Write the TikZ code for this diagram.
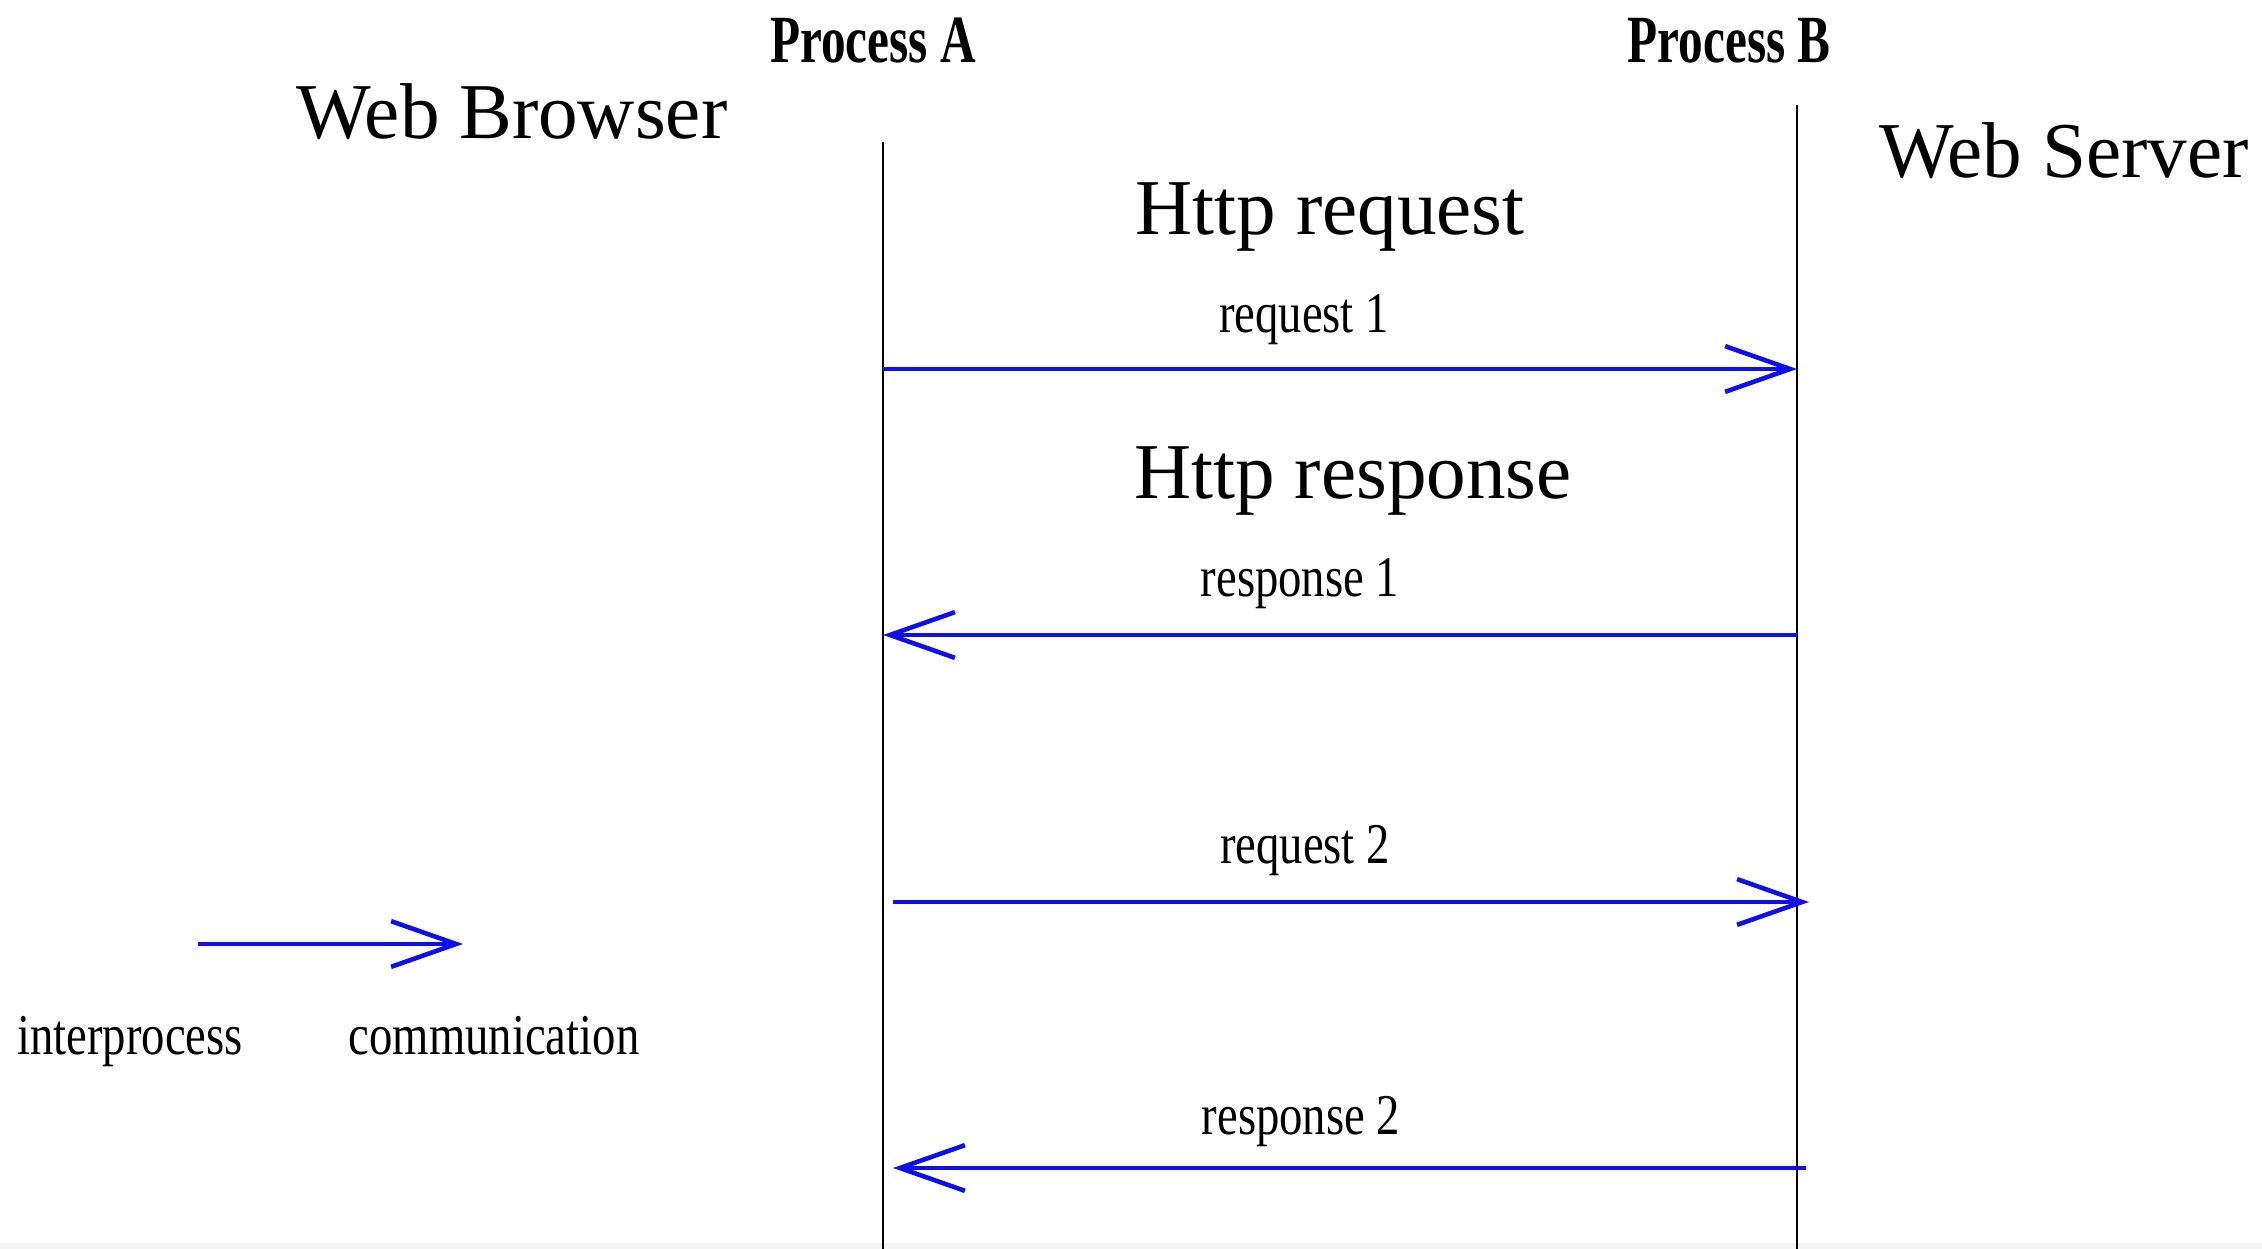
\documentclass[tikz,border=0pt]{standalone}
\usepackage{fontspec}
\setmainfont{Liberation Serif}
\usetikzlibrary{arrows.meta}
\definecolor{msgblue}{RGB}{15,15,235}
\tikzset{
  lifeline/.style={draw=black,line width=0.5pt},
  msg/.style={draw=msgblue,line width=1.3pt,
    -{Straight Barb[length=18.5pt,width=13pt,line width=1.3pt]}},
  biglabel/.style={anchor=base,inner sep=0pt,font=\fontsize{22.5}{27}\selectfont},
  smalllabel/.style={anchor=base,inner sep=0pt,font=\fontsize{16.4}{19}\selectfont},
  proclabel/.style={anchor=base,inner sep=0pt,font=\fontsize{19.2}{23}\selectfont\bfseries}
}
\newcommand{\condensed}[1]{\scalebox{0.81}[1]{#1}}
\newcommand{\proccond}[1]{\scalebox{0.73}[1]{#1}}
\begin{document}
\begin{tikzpicture}[x=0.01cm,y=-0.01cm]
  \useasboundingbox (0,0) rectangle (2262,1249);
  \fill[gray!8] (0,1243) rectangle (2262,1249);

  % lifelines
  \coordinate (Atop) at (883,142);
  \coordinate (Abot) at (883,1249);
  \coordinate (Btop) at (1797,105);
  \coordinate (Bbot) at (1797,1249);
  \draw[lifeline] (Atop) -- (Abot);
  \draw[lifeline] (Btop) -- (Bbot);

  % headers
  \node[proclabel] (procA) at (873,63) {\proccond{Process A}};
  \node[proclabel] (procB) at (1729,63) {\proccond{Process B}};
  \node[biglabel] (browser) at (512,139) {Web Browser};
  \node[biglabel] (server) at (2064,178) {Web Server};

  % messages
  \node[biglabel] (httpreq) at (1330,235) {Http request};
  \node[smalllabel] (req1) at (1304,333) {\condensed{request 1}};
  \coordinate (r1s) at (883,369);
  \coordinate (r1e) at (1797,369);
  \draw[msg] (r1s) -- (r1e);

  \node[biglabel] (httpresp) at (1353,499) {Http response};
  \node[smalllabel] (resp1) at (1300,597) {\condensed{response 1}};
  \coordinate (p1s) at (1797,635);
  \coordinate (p1e) at (883,635);
  \draw[msg] (p1s) -- (p1e);

  \node[smalllabel] (req2) at (1305,864) {\condensed{request 2}};
  \coordinate (r2s) at (893,902);
  \coordinate (r2e) at (1809,902);
  \draw[msg] (r2s) -- (r2e);

  \node[smalllabel] (resp2) at (1301,1135) {\condensed{response 2}};
  \coordinate (p2s) at (1806,1168);
  \coordinate (p2e) at (893,1168);
  \draw[msg] (p2s) -- (p2e);

  % legend
  \coordinate (ls) at (198,944);
  \coordinate (le) at (463,944);
  \draw[msg] (ls) -- (le);
  \node[smalllabel] (interp) at (130,1055) {\condensed{interprocess}};
  \node[smalllabel] (comm) at (494,1055) {\condensed{communication}};
\end{tikzpicture}
\end{document}
